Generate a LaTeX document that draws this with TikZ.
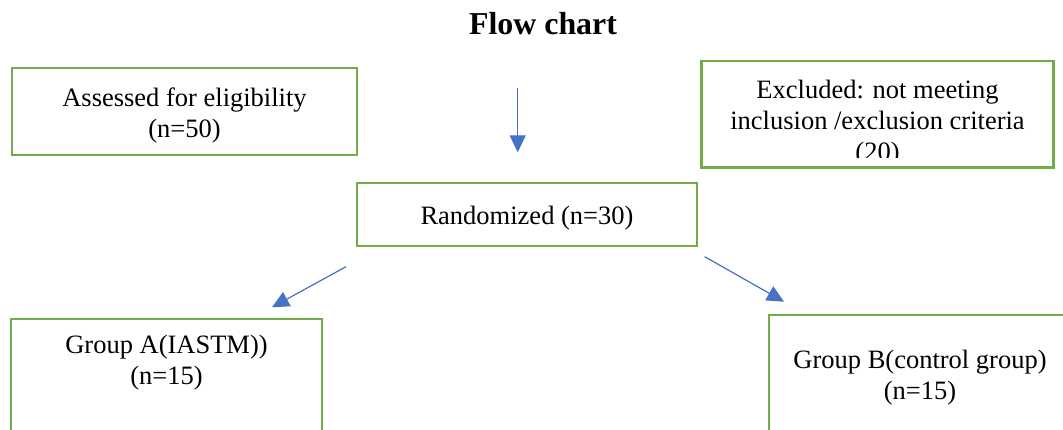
\documentclass[tikz,border=0pt]{standalone}
\usepackage{fontspec}
\setmainfont{Liberation Serif}
\usetikzlibrary{positioning, arrows.meta}
\definecolor{boxgreen}{HTML}{70AD47}
\definecolor{arrowblue}{HTML}{4472C4}

\begin{document}
\begin{tikzpicture}[x=1pt,y=-1pt,>={Triangle[length=17pt,width=16pt]},
        box/.style={draw=boxgreen,line width=2.6pt,inner sep=0pt},
        txt/.style={align=center,inner sep=0pt,font=\fontsize{26.5}{31}\selectfont},
        flow/.style={->,draw=arrowblue,fill=arrowblue,line width=1.2pt}]

  \clip (0,0) rectangle (1063,430);

  \node[anchor=base,inner sep=0pt,font=\bfseries\fontsize{31.9}{36}\selectfont] (Title) at (543,35) {Flow chart};

  \node[box,txt,text height=57pt,minimum width=345pt,minimum height=87pt] (Assessed) at (184.5,111.5) {Assessed for eligibility\\(n=50)};
  \node[box,minimum width=351.6pt,minimum height=106.3pt] (Excluded) at (877.5,114.2) {};
  \node[box,txt,text height=26pt,minimum width=340pt,minimum height=63pt] (Randomized) at (527,214.5) {Randomized (n=30)};
  \node[box,minimum width=311pt,minimum height=141pt] (GroupA) at (166.5,389.5) {};
  \node[box,minimum width=302pt,minimum height=145pt] (GroupB) at (920,387.5) {};

  \begin{scope}
    \clip ([yshift=11pt]Excluded.south west) rectangle (Excluded.north east);
    \node[txt,anchor=north] (ExcludedText) at (877.5,80) {Excluded: not meeting\\inclusion /exclusion criteria\\(20)};
  \end{scope}
  \node[txt,anchor=north] (GroupAText) [below=17.5pt of GroupA.north] {Group A(IASTM))\\(n=15)};
  \node[txt,anchor=north] (GroupBText) [below=36pt of GroupB.north] {Group B(control group)\\(n=15)};

  \coordinate (DownTail) at (517.7,87.7);
  \coordinate (DownTip) at (517.7,152.3);
  \coordinate (LeftTail) at (346,266.7);
  \coordinate (LeftTip) at (272,307.3);
  \coordinate (RightTail) at (704.7,256.7);
  \coordinate (RightTip) at (784,301.7);

  \draw[flow] (DownTail) -- (DownTip);
  \draw[flow] (LeftTail) -- (LeftTip);
  \draw[flow] (RightTail) -- (RightTip);

\end{tikzpicture}
\end{document}
